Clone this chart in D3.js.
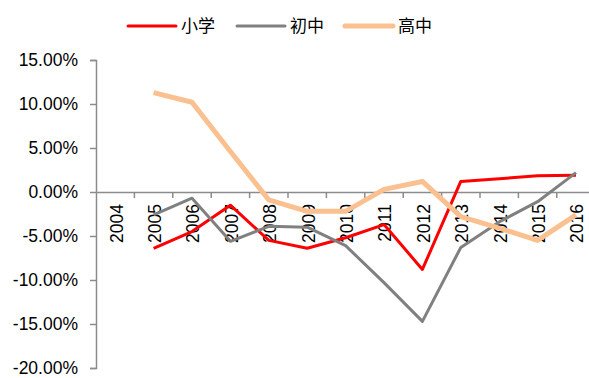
<!DOCTYPE html>
<html>
<head>
<meta charset="utf-8">
<script src="https://cdn.jsdelivr.net/npm/d3@7"></script>
<style>
  html, body { margin: 0; padding: 0; background: #fff; }
  svg { display: block; }
</style>
</head>
<body>
<svg id="chart" width="589" height="378"></svg>
<script>
// Years on the category axis
const years = ["2004","2005","2006","2007","2008","2009","2010","2011","2012","2013","2014","2015","2016"];

// Growth rates (%), null where no value is recorded
const primary = [null, -6.4, -4.5, -1.5, -5.5, -6.4, -5.2, -3.7, -8.8, 1.2, 1.5, 1.85, 1.9];      // 小学
const junior  = [null, -2.6, -0.7, -5.6, -3.9, -4.0, -6.1, -10.3, -14.7, -6.3, -3.4, -1.1, 2.2]; // 初中
const senior  = [null, 11.3, 10.2, 4.6, -0.9, -2.2, -2.2, 0.3, 1.2, -2.8, -4.1, -5.5, -2.6];     // 高中

const yTicks = [15, 10, 5, 0, -5, -10, -15, -20];

const seriesDefs = [
  { name: "小学", values: primary, color: "#ff0000", width: 3 },
  { name: "初中", values: junior,  color: "#808080", width: 3 },
  { name: "高中", values: senior,  color: "#fac090", width: 5 }
];

const svg = d3.select("#chart");
const axisColor = "#8c8c8c";

const plotLeft = 96, plotTop = 60, plotBottom = 368;
const bandW = 38.4;

const x = d3.scaleBand().domain(years).range([plotLeft, plotLeft + bandW * years.length]).padding(0);
const y = d3.scaleLinear().domain([-20, 15]).range([plotBottom, plotTop]);
const cx = d => x(d) + x.bandwidth() / 2;

// Y axis
const yAxis = svg.append("g")
  .attr("transform", `translate(${plotLeft},0)`)
  .call(d3.axisLeft(y).tickValues(yTicks).tickSize(6).tickPadding(12)
    .tickFormat(d => d.toFixed(2) + "%"));
yAxis.select(".domain").attr("stroke", axisColor).attr("stroke-width", 1.5);
yAxis.selectAll(".tick line").attr("stroke", axisColor).attr("stroke-width", 1.5);
yAxis.selectAll(".tick text")
  .attr("fill", "#000")
  .style("font-family", "'Liberation Sans', Arial, sans-serif")
  .style("font-size", "17.5px");

// X axis at zero, labels rotated
const xAxis = svg.append("g")
  .attr("transform", `translate(0,${y(0)})`)
  .call(d3.axisBottom(x).tickSize(0).tickPadding(0));
xAxis.select(".domain").attr("stroke", axisColor).attr("stroke-width", 1.5);
xAxis.selectAll(".tick text")
  .attr("transform", "rotate(-90)")
  .attr("text-anchor", "end")
  .attr("x", -12)
  .attr("y", 0)
  .attr("dy", "0.42em")
  .attr("fill", "#000")
  .style("font-family", "'Liberation Sans', Arial, sans-serif")
  .style("font-size", "17.5px");

// Tick marks on category boundaries
xAxis.selectAll(".boundary")
  .data(years.slice(1))
  .join("line")
  .attr("class", "boundary")
  .attr("x1", d => x(d)).attr("x2", d => x(d))
  .attr("y1", 0).attr("y2", 6)
  .attr("stroke", axisColor).attr("stroke-width", 1.5);

// Series lines
const line = d3.line()
  .defined(d => d.v !== null)
  .x(d => cx(d.year))
  .y(d => y(d.v));

seriesDefs.forEach(s => {
  svg.append("path")
    .datum(years.map((yr, i) => ({ year: yr, v: s.values[i] })))
    .attr("fill", "none")
    .attr("stroke", s.color)
    .attr("stroke-width", s.width)
    .attr("stroke-linejoin", "round")
    .attr("d", line);
});

// Legend
const legendX = [128, 237, 345];
const legend = svg.append("g");
seriesDefs.forEach((s, i) => {
  const g = legend.append("g").attr("transform", `translate(${legendX[i]},26)`);
  g.append("line")
    .attr("x1", 0).attr("x2", 48).attr("y1", 0).attr("y2", 0)
    .attr("stroke", s.color).attr("stroke-width", s.width)
    .attr("stroke-linecap", "round");
  g.append("text")
    .attr("x", 53).attr("y", 0).attr("dy", "0.36em")
    .attr("fill", "#000")
    .style("font-family", "'Noto Sans CJK SC', sans-serif")
    .style("font-size", "17px")
    .text(s.name);
});
</script>
</body>
</html>
